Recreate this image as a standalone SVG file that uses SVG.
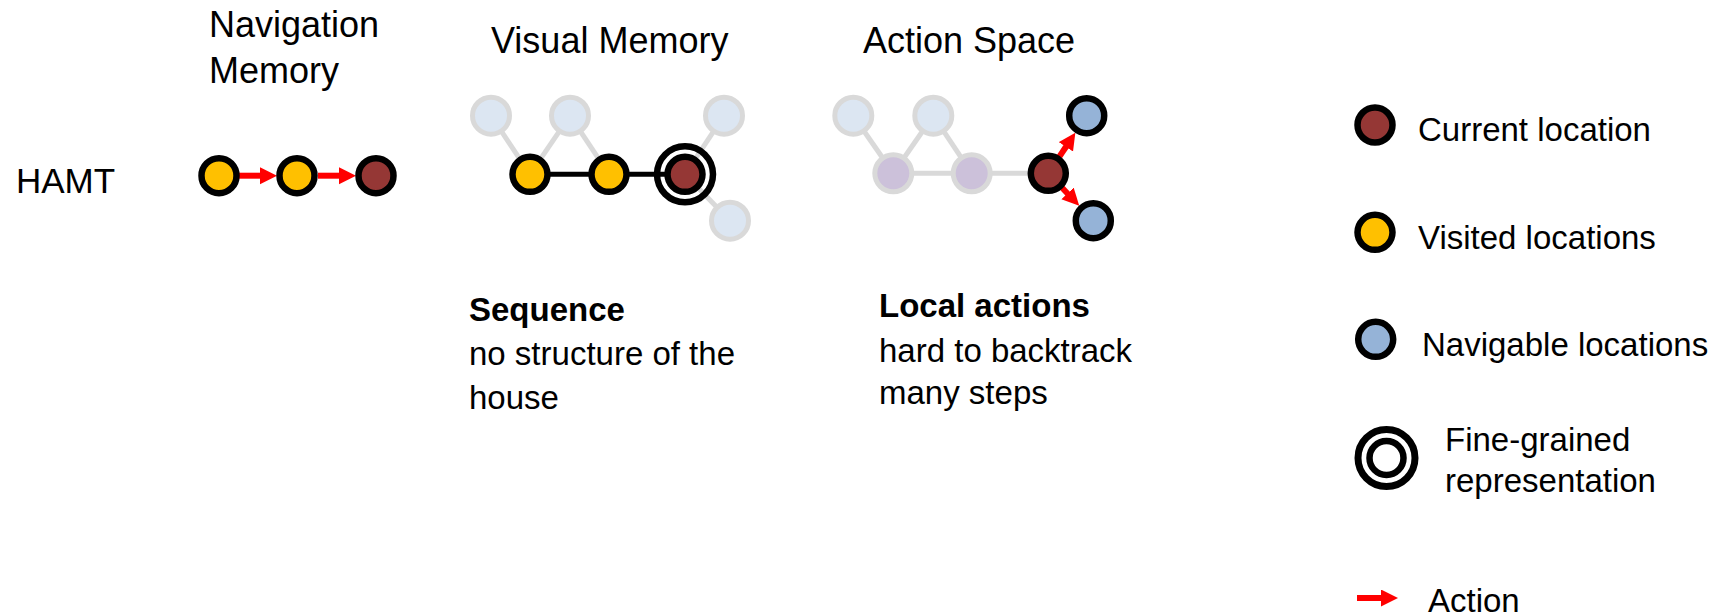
<svg xmlns="http://www.w3.org/2000/svg" width="1719" height="616" viewBox="0 0 1719 616">
  <style>
    text { font-family: "Liberation Sans", Arial, sans-serif; fill: #000; }
    .title { font-size: 36px; }
    .body { font-size: 33px; }
    .bold { font-size: 33px; font-weight: bold; }
    .cur { fill: #953735; stroke: #000; stroke-width: 6.5; }
    .vis { fill: #ffc000; stroke: #000; stroke-width: 6.5; }
    .nav { fill: #95b3d7; stroke: #000; stroke-width: 6.5; }
    .ghost { fill: #dce6f2; stroke: #d9d9d9; stroke-width: 5; }
    .ghostp { fill: #ccc1da; stroke: #d9d9d9; stroke-width: 5; }
    .ring { fill: none; stroke: #000; stroke-width: 6.5; }
    .gedge { stroke: #d9d9d9; stroke-width: 5; fill: none; }
    .bedge { stroke: #000; stroke-width: 5; fill: none; }
    .act { stroke: #ff0000; stroke-width: 6; fill: none; marker-end: url(#head); }
  </style>
  <defs>
    <marker id="head" markerUnits="userSpaceOnUse" markerWidth="18" markerHeight="18" refX="1" refY="8.5" orient="auto">
      <path d="M0,0 L17,8.5 L0,17 Z" fill="#ff0000"/>
    </marker>
  </defs>

  <rect width="1719" height="616" fill="#fff"/>

  <!-- column headings -->
  <g id="headings">
    <text class="title" x="209" y="37">Navigation</text>
    <text class="title" x="209" y="83">Memory</text>
    <text class="title" x="491" y="53">Visual Memory</text>
    <text class="title" x="863" y="53">Action Space</text>
    <text class="title" x="16" y="193" style="font-size:35px">HAMT</text>
  </g>

  <!-- connectors -->
  <g id="connectors">
    <!-- navigation memory: action sequence -->
    <line class="act" x1="239" y1="175.7" x2="261" y2="175.7"/>
    <line class="act" x1="318" y1="175.7" x2="340" y2="175.7"/>

    <!-- visual memory graph -->
    <line class="gedge" x1="491" y1="115.7" x2="530" y2="174.3"/>
    <line class="gedge" x1="530" y1="174.3" x2="570" y2="115.7"/>
    <line class="gedge" x1="570" y1="115.7" x2="609" y2="174.3"/>
    <line class="gedge" x1="724" y1="115.7" x2="685" y2="174.3"/>
    <line class="gedge" x1="685" y1="174.3" x2="730" y2="220.7"/>
    <line class="bedge" x1="530" y1="174.3" x2="609" y2="174.3"/>
    <line class="bedge" x1="609" y1="174.3" x2="685" y2="174.3"/>

    <!-- action space graph -->
    <line class="gedge" x1="853.3" y1="115.7" x2="893.3" y2="173.3"/>
    <line class="gedge" x1="893.3" y1="173.3" x2="933.3" y2="115.7"/>
    <line class="gedge" x1="933.3" y1="115.7" x2="971.7" y2="173.3"/>
    <line class="gedge" x1="893.3" y1="173.3" x2="971.7" y2="173.3"/>
    <line class="gedge" x1="971.7" y1="173.3" x2="1048.3" y2="173.3"/>
    <line class="act" x1="1059.4" y1="156.7" x2="1066.5" y2="146"/>
    <line class="act" x1="1062.1" y1="187.8" x2="1068.2" y2="194.2"/>
  </g>

  <!-- navigation memory nodes -->
  <g id="nav-memory">
    <circle class="vis" cx="219" cy="175.7" r="17.5"/>
    <circle class="vis" cx="297" cy="175.7" r="17.5"/>
    <circle class="cur" cx="376" cy="175.7" r="17.5"/>
  </g>

  <!-- visual memory nodes -->
  <g id="visual-memory">
    <circle class="ghost" cx="491" cy="115.7" r="18.5"/>
    <circle class="ghost" cx="570" cy="115.7" r="18.5"/>
    <circle class="ghost" cx="724" cy="115.7" r="18.5"/>
    <circle class="ghost" cx="730" cy="220.7" r="18.5"/>
    <circle class="vis" cx="530" cy="174.3" r="17.5"/>
    <circle class="vis" cx="609" cy="174.3" r="17.5"/>
    <circle class="ring" cx="685" cy="174.3" r="28"/>
    <circle class="cur" cx="685" cy="174.3" r="17.5"/>
  </g>

  <!-- action space nodes -->
  <g id="action-space">
    <circle class="ghost" cx="853.3" cy="115.7" r="18.5"/>
    <circle class="ghost" cx="933.3" cy="115.7" r="18.5"/>
    <circle class="ghostp" cx="893.3" cy="173.3" r="18.5"/>
    <circle class="ghostp" cx="971.7" cy="173.3" r="18.5"/>
    <circle class="cur" cx="1048.3" cy="173.3" r="17.5"/>
    <circle class="nav" cx="1086.7" cy="115.7" r="17.5"/>
    <circle class="nav" cx="1093.3" cy="220.7" r="17.5"/>
  </g>

  <!-- captions -->
  <g id="caption-sequence">
    <text class="bold" x="469" y="321">Sequence</text>
    <text class="body" x="469" y="365">no structure of the</text>
    <text class="body" x="469" y="409">house</text>
  </g>
  <g id="caption-local">
    <text class="bold" x="879" y="317">Local actions</text>
    <text class="body" x="879" y="362">hard to backtrack</text>
    <text class="body" x="879" y="404">many steps</text>
  </g>

  <!-- legend -->
  <g id="legend-current">
    <circle class="cur" cx="1375" cy="125" r="17.5"/>
    <text class="body" x="1418" y="141">Current location</text>
  </g>
  <g id="legend-visited">
    <circle class="vis" cx="1375" cy="232.3" r="17.5"/>
    <text class="body" x="1418" y="249">Visited locations</text>
  </g>
  <g id="legend-navigable">
    <circle class="nav" cx="1375.7" cy="339.3" r="17.5"/>
    <text class="body" x="1422" y="356">Navigable locations</text>
  </g>
  <g id="legend-fine">
    <circle class="ring" cx="1386.5" cy="458" r="28.5" style="stroke-width:7"/>
    <circle class="ring" cx="1386.5" cy="458" r="17"/>
    <text class="body" x="1445" y="451">Fine-grained</text>
    <text class="body" x="1445" y="492">representation</text>
  </g>
  <g id="legend-action">
    <line class="act" x1="1357" y1="598" x2="1382" y2="598"/>
    <text class="body" x="1428" y="612">Action</text>
  </g>
</svg>
